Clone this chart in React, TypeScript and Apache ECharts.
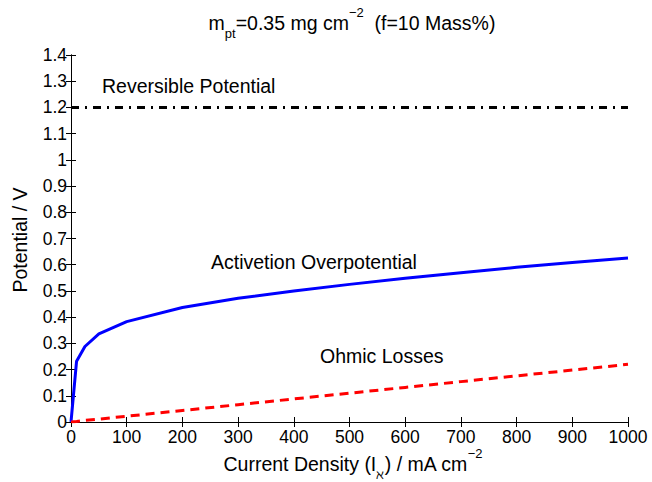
import React, { useEffect, useRef } from "react";
import * as echarts from "echarts";

const currentDensity = [0, 10, 25, 50, 100, 200, 300, 400, 500, 600, 700, 800, 900, 1000];
const activationOverpotential = [0, 0.232, 0.288, 0.336, 0.383, 0.437, 0.472, 0.5, 0.525, 0.548, 0.569, 0.59, 0.608, 0.626];
const ohmicLosses = [0, 0.002, 0.006, 0.011, 0.022, 0.044, 0.066, 0.088, 0.11, 0.132, 0.154, 0.176, 0.198, 0.22];
const reversibleX = [0, 1000];
const reversibleY = [1.2, 1.2];

const FONT = "'Liberation Sans', Arial, sans-serif";
const TEXT_SIZE = 19.5;
const TICK_SIZE = 17.5;

export default function App() {
  const ref = useRef<HTMLDivElement>(null);
  useEffect(() => {
    if (!ref.current) return;
    const chart = echarts.init(ref.current, undefined, { renderer: "svg" });
    const pair = (xs: number[], ys: number[]) => xs.map((x, i) => [x, ys[i]]);
    const axisCommon = {
      type: "value" as const,
      axisLine: { show: true, lineStyle: { color: "#000", width: 1 } },
      axisTick: { show: true, inside: true, length: 5, lineStyle: { color: "#000", width: 1 } },
      splitLine: { show: false },
    };
    const mkRich = (supLH: number) => ({
      a: { fontSize: TEXT_SIZE, fontFamily: FONT, lineHeight: 34, fill: "#000", color: "#000" },
      sub: { fontSize: 13, fontFamily: FONT, lineHeight: 14, verticalAlign: "bottom", fill: "#000", color: "#000" },
      sup: { fontSize: 13, fontFamily: FONT, lineHeight: supLH, verticalAlign: "top", fill: "#000", color: "#000" },
    });
    const plain = (text: string, x: number, y: number) => ({
      type: "text",
      x,
      y,
      style: { text, textAlign: "left", textVerticalAlign: "middle", fontSize: TEXT_SIZE, fontFamily: FONT, fill: "#000" },
    });
    chart.setOption({
      animation: false,
      backgroundColor: "#fff",
      textStyle: { fontFamily: FONT },
      grid: { left: 71, right: 24, top: 55, bottom: 60, containLabel: false },
      xAxis: [
        {
          ...axisCommon,
          min: 0,
          max: 1000,
          interval: 100,
          position: "bottom",
          axisLabel: {
            show: true,
            color: "#000",
            fontSize: TICK_SIZE,
            fontFamily: FONT,
            margin: 6,
            formatter: (v: number) => String(v),
          },
        },
        {
          ...axisCommon,
          min: 0,
          max: 1000,
          interval: 100,
          position: "top",
          axisLabel: { show: false },
        },
      ],
      yAxis: [
        {
          ...axisCommon,
          min: 0,
          max: 1.4,
          interval: 0.1,
          position: "left",
          axisLabel: {
            show: true,
            color: "#000",
            fontSize: TICK_SIZE,
            fontFamily: FONT,
            margin: 4,
            formatter: (v: number) => String(Math.round(v * 10) / 10),
          },
        },
        {
          ...axisCommon,
          min: 0,
          max: 1.4,
          interval: 0.1,
          position: "right",
          axisLabel: { show: false },
        },
      ],
      series: [
        {
          type: "line",
          name: "Reversible Potential",
          data: pair(reversibleX, reversibleY),
          showSymbol: false,
          lineStyle: { color: "#000", width: 3, type: [8, 6, 2, 6] },
        },
        {
          type: "line",
          name: "Activetion Overpotential",
          data: pair(currentDensity, activationOverpotential),
          showSymbol: false,
          lineStyle: { color: "#0000ff", width: 3 },
        },
        {
          type: "line",
          name: "Ohmic Losses",
          data: pair(currentDensity, ohmicLosses),
          showSymbol: false,
          lineStyle: { color: "#ff0000", width: 3, type: [9, 6] },
        },
      ],
      graphic: [
        {
          type: "text",
          x: 352,
          y: 6,
          style: {
            text: "{a|m}{sub|pt}{a|=0.35 mg cm}{sup|−2}{a|  (f=10 Mass%)}",
            textAlign: "center",
            textVerticalAlign: "top",
            fill: "#000",
            rich: mkRich(12),
          },
        },
        {
          type: "text",
          x: 353,
          y: 447,
          style: {
            text: "{a|Current Density (I}{sub|ℵ}{a|) / mA cm}{sup|−2}",
            textAlign: "center",
            textVerticalAlign: "top",
            fill: "#000",
            rich: mkRich(26),
          },
        },
        {
          type: "text",
          x: 20,
          y: 240,
          rotation: Math.PI / 2,
          style: {
            text: "Potential / V",
            textAlign: "center",
            textVerticalAlign: "middle",
            fontSize: TEXT_SIZE,
            fontFamily: FONT,
            fill: "#000",
          },
        },
        plain("Reversible Potential", 102, 86),
        plain("Activetion Overpotential", 211, 262),
        plain("Ohmic Losses", 320, 356),
      ],
    });
    return () => chart.dispose();
  }, []);
  return (
    <div
      ref={ref}
      style={{ position: "fixed", left: 0, top: 0, width: 652, height: 482, background: "#fff" }}
    />
  );
}
